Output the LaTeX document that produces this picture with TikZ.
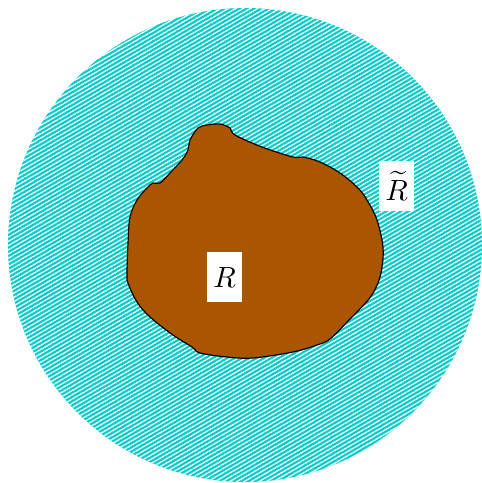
\documentclass[tikz,border=0pt]{standalone}
\usepackage{amsmath,amssymb}
\usepackage{xcolor}
\usepackage{tikz}
\usetikzlibrary{patterns.meta}

\definecolor{regioncyan}{RGB}{0,204,204}
\definecolor{regionbrown}{RGB}{170,86,0}

\begin{document}
\begin{tikzpicture}[
    x=0.012cm, y=-0.012cm,
    line width=0.5pt,
    labelbox/.style={fill=white, inner sep=0pt, minimum width=0.43cm, minimum height=0.6cm},
]

%------------------------------------------------------------
% geometry constants (pixel units)
%------------------------------------------------------------
\def\Cx{245}   % disc centre x
\def\Cy{245}   % disc centre y
\def\Rd{237}   % disc radius

\useasboundingbox (0,0) rectangle (482,483);

%============================================================
%  outer disc  (R tilde)
%============================================================
\fill[regioncyan] (\Cx,\Cy) circle[radius=\Rd];
\fill[pattern={Lines[angle=30, distance=1.25pt, line width=0.45pt]}, pattern color=white]
    (\Cx,\Cy) circle[radius=\Rd];

%============================================================
%  inner blob  (R)
%============================================================
\draw[fill=regionbrown, line width=0.4pt] plot[smooth cycle, tension=0.55] coordinates {
    (190,140) (198,128) (207,125) (220,124) (230,128) (235,135)
    (262,147) (293,157) (303,157) (320,162) (340,173) (358,188)
    (367,200) (377,220) (383,247) (382,267) (378,283) (369,299)
    (349,320) (330,339) (317,345) (293,352) (253,358) (227,357)
    (200,353) (192,347) (173,335) (150,317) (137,302) (128,283)
    (127,273) (128,243) (130,217) (137,200) (147,188) (153,183)
    (160,183) (170,173) (182,160) (188,150)
};

% labels
\node[labelbox] (inner) at (224.5,277) {$R$};
\node[labelbox] (outer) at (396.5,186) {$\widetilde{R}$};

\end{tikzpicture}
\end{document}
